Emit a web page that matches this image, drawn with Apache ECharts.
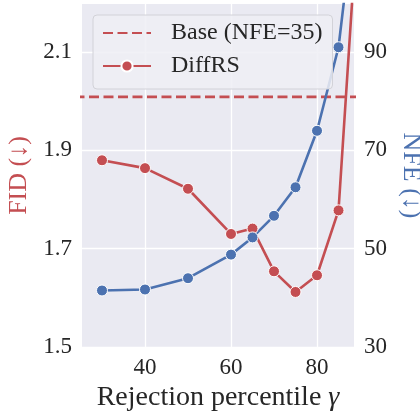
<!DOCTYPE html>
<html>
<head>
<meta charset="utf-8">
<script src="https://cdn.jsdelivr.net/npm/echarts@6/dist/echarts.min.js"></script>
<style>
  html, body { margin: 0; padding: 0; background: #fff; }
  #chart { width: 420px; height: 415px; }
</style>
</head>
<body>
<div id="chart"></div>
<script>
// rejection percentile (x) and the two measured curves
const gammaValues = [30, 40, 50, 60, 65, 70, 75, 80, 85, 90];
const fidValues = [1.880, 1.864, 1.822, 1.730, 1.741, 1.654, 1.612, 1.646, 1.778, 2.45];
const nfeValues = [41.5, 41.7, 44.0, 48.8, 52.3, 56.7, 62.5, 74.0, 91.0, 128];
const baseFID = 2.009;
const xTicks = [40, 60, 80];

const RED = '#c44e52', BLUE = '#4c72b0', INK = '#262626';
const FONT = '"Liberation Serif", "DejaVu Serif", serif';

const chart = echarts.init(document.getElementById('chart'));

chart.setOption({
  backgroundColor: '#ffffff',
  animation: false,
  textStyle: { fontFamily: FONT },
  grid: {
    left: 82, right: 66, top: 4, bottom: 68,
    outerBoundsMode: 'none', containLabel: false,
    show: true, backgroundColor: '#eaeaf2', borderWidth: 0
  },
  legend: {
    data: [
      { name: 'Base (NFE=35)', itemStyle: { opacity: 0 } },
      { name: 'DiffRS' }
    ],
    orient: 'vertical',
    left: 93, top: 15,
    padding: [6, 10, 11, 9],
    itemWidth: 48, itemHeight: 14, itemGap: 9,
    backgroundColor: 'rgba(238,238,245,0.85)',
    borderColor: '#d2d2d8', borderWidth: 1, borderRadius: 4,
    textStyle: { fontFamily: FONT, fontSize: 24, color: INK, padding: [0, 0, 0, 15] }
  },
  xAxis: {
    type: 'value',
    min: 25.35, max: 88.6,
    name: 'Rejection percentile {g|γ}',
    nameLocation: 'middle', nameGap: 36,
    nameTextStyle: {
      fontFamily: FONT, fontSize: 28, color: INK,
      rich: { g: { fontFamily: FONT, fontSize: 28, fontStyle: 'italic', color: INK } }
    },
    axisLine: { show: false }, axisTick: { show: false, customValues: xTicks },
    axisLabel: { customValues: xTicks, fontFamily: FONT, fontSize: 23, color: INK, margin: 9 },
    splitLine: { show: true, customValues: xTicks, lineStyle: { color: '#ffffff', width: 1.3 } }
  },
  yAxis: [
    {
      type: 'value', position: 'left',
      min: 1.5, max: 2.198, interval: 0.2,
      name: 'FID (↓)', nameLocation: 'middle', nameGap: 50, nameRotate: 90,
      nameTextStyle: { fontFamily: FONT, fontSize: 26, color: RED },
      axisLine: { show: false }, axisTick: { show: false },
      axisLabel: {
        fontFamily: FONT, fontSize: 23, color: INK, margin: 10, showMaxLabel: false,
        formatter: v => v.toFixed(1)
      },
      splitLine: { show: true, showMaxLine: false, lineStyle: { color: '#ffffff', width: 1.3 } }
    },
    {
      type: 'value', position: 'right',
      min: 30, max: 99.8, interval: 20,
      name: 'NFE (↓)', nameLocation: 'middle', nameGap: 41, nameRotate: -90,
      nameTextStyle: { fontFamily: FONT, fontSize: 26, color: BLUE },
      axisLine: { show: false }, axisTick: { show: false },
      axisLabel: { fontFamily: FONT, fontSize: 23, color: INK, margin: 10, showMaxLabel: false },
      splitLine: { show: false }
    }
  ],
  series: [
    {
      name: 'Base (NFE=35)',
      type: 'line',
      yAxisIndex: 0,
      data: [[0, baseFID], [100, baseFID]],
      symbol: 'none',
      lineStyle: { color: RED, width: 2.6, type: [10, 4.5] },
      itemStyle: { color: RED },
      clip: true
    },
    {
      name: 'DiffRS',
      type: 'line',
      yAxisIndex: 0,
      data: gammaValues.map((g, i) => [g, fidValues[i]]),
      symbol: 'circle', symbolSize: 11,
      lineStyle: { color: RED, width: 2.6 },
      itemStyle: { color: RED, borderColor: '#ffffff', borderWidth: 1 },
      clip: true
    },
    {
      name: 'NFE',
      type: 'line',
      yAxisIndex: 1,
      data: gammaValues.map((g, i) => [g, nfeValues[i]]),
      symbol: 'circle', symbolSize: 11,
      lineStyle: { color: BLUE, width: 2.6 },
      itemStyle: { color: BLUE, borderColor: '#ffffff', borderWidth: 1 },
      clip: true
    }
  ]
});
</script>
</body>
</html>
